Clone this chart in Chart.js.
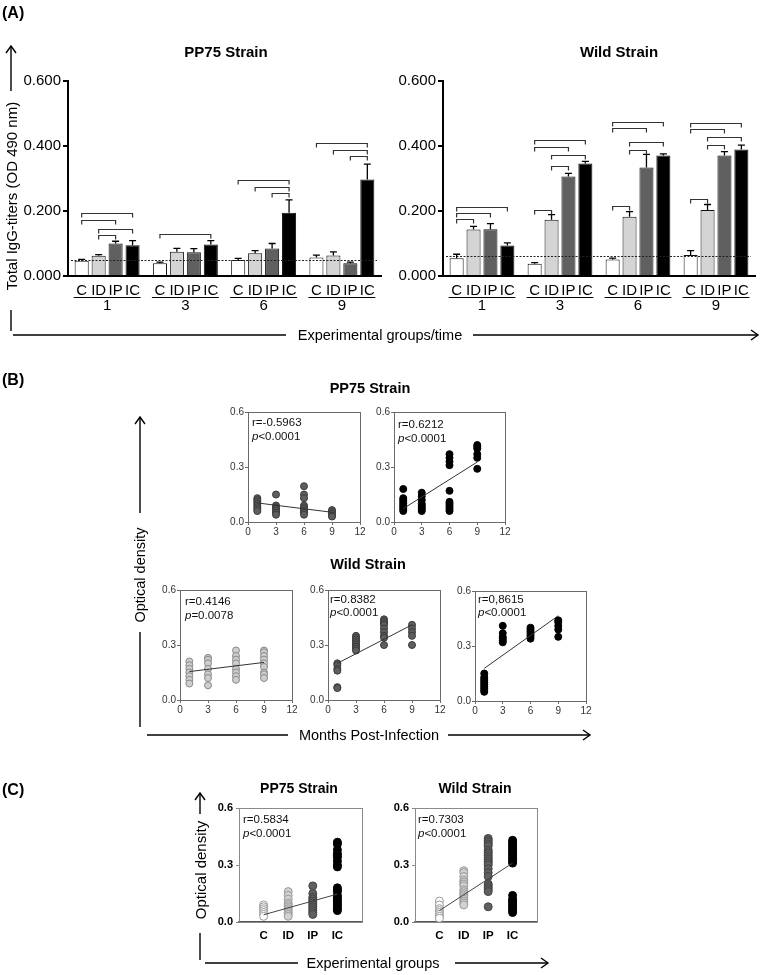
<!DOCTYPE html>
<html><head><meta charset="utf-8">
<script src="https://cdn.jsdelivr.net/npm/chart.js@4.4.1/dist/chart.umd.min.js"></script>
<style>
html,body{margin:0;padding:0;background:#fff;}
#fig{position:relative;width:764px;height:975px;overflow:hidden;font-family:"Liberation Sans",Arial,sans-serif;color:#000;background:#fff;}
canvas.c{position:absolute;left:0;top:0;width:764px;height:975px;}
.t{position:absolute;white-space:nowrap;line-height:1;}
.b{font-weight:bold;}
.ctr{transform:translate(-50%,-50%);}
.rot{transform:translate(-50%,-50%) rotate(-90deg);}
svg{position:absolute;left:0;top:0;}
</style></head>
<body>
<div id="fig"></div>
<script>
// ---------------- DATA ----------------
// Panel A
const groupLabels = ['1','3','6','9'];
const subLabels = ['C','ID','IP','IC'];
const pp75_C  = [0.047, 0.039, 0.049, 0.057];
const pp75_ID = [0.062, 0.075, 0.070, 0.063];
const pp75_IP = [0.100, 0.073, 0.085, 0.039];
const pp75_IC = [0.095, 0.097, 0.195, 0.297];
const pp75_C_sem  = [0.004, 0.004, 0.005, 0.007];
const pp75_ID_sem = [0.004, 0.010, 0.008, 0.011];
const pp75_IP_sem = [0.007, 0.011, 0.015, 0.004];
const pp75_IC_sem = [0.014, 0.012, 0.039, 0.047];
const wild_C  = [0.055, 0.038, 0.051, 0.065];
const wild_ID = [0.143, 0.173, 0.182, 0.203];
const wild_IP = [0.144, 0.306, 0.334, 0.371];
const wild_IC = [0.094, 0.346, 0.371, 0.389];
const wild_C_sem  = [0.012, 0.003, 0.004, 0.013];
const wild_ID_sem = [0.010, 0.016, 0.016, 0.017];
const wild_IP_sem = [0.017, 0.010, 0.040, 0.012];
const wild_IC_sem = [0.008, 0.007, 0.005, 0.014];
const pp75_cutoff = 0.049;
const wild_cutoff = 0.062;
// brackets: [group, fromBar, toBar, height]
const pp75_brackets = [[0,0,3,0.193],[0,0,2,0.172],[0,1,3,0.146],[0,1,2,0.125],[1,0,3,0.128],
  [2,0,3,0.295],[2,1,3,0.273],[2,2,3,0.254],[3,0,3,0.409],[3,1,3,0.388],[3,2,3,0.369]];
const wild_brackets = [[0,0,3,0.212],[0,0,2,0.194],[0,0,1,0.176],
  [1,0,3,0.418],[1,0,2,0.397],[1,1,3,0.373],[1,1,2,0.339],[1,0,1,0.204],
  [2,0,3,0.475],[2,0,2,0.455],[2,1,3,0.411],[2,1,2,0.389],[2,0,1,0.215],
  [3,0,3,0.470],[3,0,2,0.452],[3,1,3,0.429],[3,1,2,0.402],[3,0,1,0.238]];

// Panel B (months post-infection)
const months = [1,3,6,9];
const bPP75_IP = [[0.13,0.12,0.11,0.10,0.09,0.08,0.07,0.06],[0.15,0.09,0.08,0.07,0.06,0.05,0.04],[0.195,0.15,0.13,0.09,0.08,0.07,0.06,0.05,0.04],[0.065,0.055,0.045,0.035,0.03]];
const bPP75_IC = [[0.18,0.13,0.12,0.11,0.10,0.09,0.08,0.07,0.06],[0.16,0.14,0.12,0.10,0.09,0.08,0.07,0.06],[0.37,0.35,0.33,0.31,0.17,0.11,0.10,0.09,0.08,0.07,0.06],[0.42,0.41,0.40,0.37,0.35,0.29]];
const bWild_ID = [[0.21,0.19,0.17,0.15,0.13,0.11,0.09],[0.23,0.22,0.20,0.17,0.14,0.12,0.08],[0.27,0.24,0.22,0.20,0.17,0.15,0.13,0.11],[0.27,0.26,0.24,0.22,0.20,0.18,0.15,0.14,0.12]];
const bWild_IP = [[0.20,0.19,0.17,0.16,0.07,0.065],[0.35,0.34,0.33,0.32,0.31,0.30,0.29,0.28,0.27],[0.44,0.43,0.42,0.41,0.39,0.37,0.35,0.34,0.30],[0.41,0.39,0.37,0.35,0.30]];
const bWild_IC = [[0.15,0.13,0.12,0.11,0.10,0.09,0.08,0.07,0.06,0.05],[0.41,0.37,0.35,0.34,0.33,0.32],[0.40,0.39,0.38,0.37,0.36,0.35,0.34],[0.44,0.43,0.41,0.39,0.35]];
const fitPP75_IP = [0.104, 0.053];
const fitPP75_IC = [0.073, 0.327];
const fitWild_ID = [0.155, 0.205];
const fitWild_IP = [0.200, 0.410];
const fitWild_IC = [0.178, 0.465];
const statR = ['r=-0.5963','r=0.6212','r=0.4146','r=0.8382','r=0,8615','r=0.5834','r=0.7303'];
const statP = ['<0.0001','<0.0001','=0.0078','<0.0001','<0.0001','<0.0001','<0.0001'];

// Panel C (experimental groups)
const cGroups = ['C','ID','IP','IC'];
const cPP75_C  = [0.09,0.08,0.07,0.06,0.05,0.04,0.03];
const cPP75_ID = [0.16,0.14,0.12,0.10,0.09,0.08,0.07,0.06,0.05,0.04,0.03];
const cPP75_IP = [0.19,0.15,0.13,0.12,0.11,0.10,0.09,0.08,0.07,0.06,0.05,0.04];
const cPP75_IC = [0.42,0.41,0.38,0.36,0.35,0.34,0.32,0.30,0.29,0.18,0.17,0.16,0.14,0.13,0.12,0.11,0.10,0.09,0.08,0.07,0.06];
const cWild_C  = [0.11,0.09,0.07,0.06,0.05,0.04,0.03,0.02];
const cWild_ID = [0.27,0.26,0.24,0.22,0.21,0.20,0.19,0.17,0.16,0.15,0.14,0.13,0.12,0.11,0.10,0.09];
const cWild_IP = [0.44,0.43,0.42,0.41,0.40,0.38,0.37,0.36,0.35,0.34,0.33,0.32,0.31,0.30,0.28,0.26,0.24,0.20,0.19,0.18,0.17,0.16,0.08];
const cWild_IC = [0.43,0.42,0.41,0.40,0.39,0.38,0.37,0.36,0.35,0.34,0.33,0.32,0.31,0.14,0.12,0.11,0.10,0.09,0.08,0.07,0.06,0.05];
const fitC_PP75 = [0.038, 0.147];
const fitC_Wild = [0.060, 0.310];

// ---------------- RENDER ----------------
const FONT = '"Liberation Sans", Arial, sans-serif';
Chart.defaults.font.family = FONT;
Chart.defaults.color = '#000';
Chart.defaults.animation = false;
const W = 764, H = 975;
const fig = document.getElementById('fig');

function mkCanvas(){ const c=document.createElement('canvas'); c.width=W; c.height=H; c.className='c'; fig.appendChild(c); return c; }
function pad(a, yW, xH){ return {left:a.l-yW, right:W-a.r, top:a.t, bottom:H-a.b-xH}; }

const barDecor = {
  id:'barDecor',
  afterDatasetsDraw(chart, args, o){
    const ctx=chart.ctx, y=chart.scales.y, x=chart.scales.x, a=chart.chartArea;
    ctx.save();
    // cut-off line
    ctx.strokeStyle='#222'; ctx.lineWidth=1; ctx.setLineDash([2,1.5]);
    const cy=Math.round(y.getPixelForValue(o.cutoff))+0.5;
    ctx.beginPath(); ctx.moveTo(a.left+3,cy); ctx.lineTo(a.right-4,cy); ctx.stroke();
    ctx.setLineDash([]);
    // error bars
    ctx.strokeStyle='#000'; ctx.lineWidth=1.3;
    chart.data.datasets.forEach((ds,i)=>{
      chart.getDatasetMeta(i).data.forEach((bar,j)=>{
        const top=y.getPixelForValue(ds.data[j]+o.sems[i][j]);
        ctx.beginPath(); ctx.moveTo(bar.x,bar.y); ctx.lineTo(bar.x,top);
        ctx.moveTo(bar.x-3.5,top); ctx.lineTo(bar.x+3.5,top); ctx.stroke();
      });
    });
    // significance brackets
    ctx.strokeStyle='#333'; ctx.lineWidth=1.2;
    o.brackets.forEach(([g,p,q,v])=>{
      const x1=chart.getDatasetMeta(p).data[g].x, x2=chart.getDatasetMeta(q).data[g].x;
      const by=Math.round(y.getPixelForValue(v))+0.5;
      ctx.beginPath(); ctx.moveTo(x1,by+4); ctx.lineTo(x1,by); ctx.lineTo(x2,by); ctx.lineTo(x2,by+4); ctx.stroke();
    });
    // category labels
    ctx.fillStyle='#000'; ctx.font='15px '+FONT; ctx.textAlign='center'; ctx.textBaseline='middle';
    chart.data.labels.forEach((lab,g)=>{
      let x0=Infinity,x1=-Infinity;
      chart.data.datasets.forEach((ds,i)=>{
        const b=chart.getDatasetMeta(i).data[g];
        ctx.fillText(ds.label,b.x,a.bottom+14.5);
        x0=Math.min(x0,b.x-b.width/2); x1=Math.max(x1,b.x+b.width/2);
      });
      ctx.fillRect(x0-1,a.bottom+21,x1-x0+2,1);
      ctx.fillText(lab,x.getPixelForValue(g),a.bottom+30);
    });
    ctx.restore();
  }
};
const frame = {
  id:'frame',
  afterDraw(chart,args,o){
    if(!o||!o.color) return;
    const ctx=chart.ctx,a=chart.chartArea;
    ctx.save(); ctx.strokeStyle=o.color; ctx.lineWidth=1;
    ctx.strokeRect(Math.round(a.left)+0.5,Math.round(a.top)+0.5,Math.round(a.right-a.left),Math.round(a.bottom-a.top));
    ctx.restore();
  }
};
const statText = {
  id:'statText',
  afterDraw(chart,args,o){
    if(!o||!o.r) return;
    const ctx=chart.ctx,a=chart.chartArea;
    ctx.save(); ctx.fillStyle='#111'; ctx.textBaseline='middle'; ctx.textAlign='left';
    ctx.font=o.size+'px '+FONT; ctx.fillText(o.r,a.left+o.dx,a.top+o.dy1);
    ctx.font='italic '+o.size+'px '+FONT; ctx.fillText('p',a.left+o.dx,a.top+o.dy2);
    const w=ctx.measureText('p').width;
    ctx.font=o.size+'px '+FONT; ctx.fillText(o.p,a.left+o.dx+w,a.top+o.dy2);
    ctx.restore();
  }
};

const barFill = ['#ffffff','#d4d4d4','#606060','#000000'];
function barChart(area, series, sems, cutoff, brackets){
  const YW=60, XH=40;
  new Chart(mkCanvas(), {
    type:'bar',
    data:{labels:groupLabels, datasets:series.map((d,i)=>({label:subLabels[i], data:d, backgroundColor:barFill[i], borderColor:'#111', borderWidth:1, borderSkipped:'start', categoryPercentage:0.867, barPercentage:0.83}))},
    options:{responsive:false, animation:false, layout:{padding:pad(area,YW,XH)},
      plugins:{legend:{display:false}, tooltip:{enabled:false}, barDecor:{sems, cutoff, brackets}},
      scales:{
        x:{offset:true, grid:{display:false, drawTicks:false}, ticks:{display:false}, border:{color:'#000', width:2}, afterFit:s=>{s.height=XH;}},
        y:{min:0, max:0.6, ticks:{stepSize:0.2, callback:v=>Number(v).toFixed(3), font:{size:15}, color:'#000', padding:2},
           grid:{drawOnChartArea:false, tickLength:5, color:'#000', lineWidth:2}, border:{color:'#000', width:2}, afterFit:s=>{s.width=YW;}}
      }},
    plugins:[barDecor]
  });
}

const sDark = {bg:'#5e5e5e', bd:'#3a3a3a'}, sBlack = {bg:'#000', bd:'#000'}, sLight = {bg:'#cdcdcd', bd:'#8a8a8a'};
function bScatter(area, vals, st, fit, stat){
  const YW=30, XH=20;
  const pts = months.flatMap((m,k)=>vals[k].map(v=>({x:m,y:v})));
  new Chart(mkCanvas(), {
    type:'scatter',
    data:{datasets:[
      {type:'line', data:[{x:months[0],y:fit[0]},{x:months[months.length-1],y:fit[1]}], borderColor:'#333', borderWidth:1, pointRadius:0, order:0},
      {data:pts, backgroundColor:st.bg, borderColor:st.bd, borderWidth:1, pointRadius:3.5, order:1}
    ]},
    options:{responsive:false, animation:false, layout:{padding:pad(area,YW,XH)},
      plugins:{legend:{display:false}, tooltip:{enabled:false}, frame:{color:'#6a6a6a'}, statText:stat},
      scales:{
        x:{type:'linear', min:0, max:12, ticks:{stepSize:3, font:{size:10}, color:'#333', padding:1},
           grid:{drawOnChartArea:false, tickLength:3, color:'#6a6a6a'}, border:{color:'#6a6a6a', width:1}, afterFit:s=>{s.height=XH;}},
        y:{min:0, max:0.6, ticks:{stepSize:0.3, callback:v=>Number(v).toFixed(1), font:{size:10}, color:'#333', padding:1},
           grid:{drawOnChartArea:false, tickLength:3, color:'#6a6a6a'}, border:{color:'#6a6a6a', width:1}, afterFit:s=>{s.width=YW;}}
      }},
    plugins:[frame, statText]
  });
}

const cStyles = [{bg:'#ffffff', bd:'#9a9a9a'},{bg:'#d2d2d2', bd:'#9a9a9a'},{bg:'#606060', bd:'#444'},{bg:'#000', bd:'#000'}];
function cScatter(area, groups, fit, stat){
  const YW=30, XH=24;
  const ds = groups.map((vals,k)=>({data:vals.map(v=>({x:k+1,y:v})), backgroundColor:cStyles[k].bg, borderColor:cStyles[k].bd, borderWidth:1, pointRadius:4, order:1}));
  ds.unshift({type:'line', data:[{x:1,y:fit[0]},{x:groups.length,y:fit[1]}], borderColor:'#444', borderWidth:1, pointRadius:0, order:0});
  new Chart(mkCanvas(), {
    type:'scatter',
    data:{datasets:ds},
    options:{responsive:false, animation:false, layout:{padding:pad(area,YW,XH)},
      plugins:{legend:{display:false}, tooltip:{enabled:false}, frame:{color:'#8a8a8a'}, statText:stat},
      scales:{
        x:{type:'linear', min:0, max:groups.length+1,
           afterBuildTicks:s=>{s.ticks=cGroups.map((g,i)=>({value:i+1}));},
           ticks:{callback:v=>cGroups[v-1], font:{size:11.5, weight:'bold'}, color:'#000', padding:7},
           grid:{display:false, drawTicks:false}, border:{color:'#555', width:1.5}, afterFit:s=>{s.height=XH;}},
        y:{min:0, max:0.6, ticks:{stepSize:0.3, callback:v=>Number(v).toFixed(1), font:{size:11, weight:'bold'}, color:'#000', padding:3},
           grid:{drawOnChartArea:false, tickLength:3, color:'#888'}, border:{color:'#888', width:1}, afterFit:s=>{s.width=YW;}}
      }},
    plugins:[frame, statText]
  });
}

// Panel A
barChart({l:68,r:381,t:81,b:276}, [pp75_C,pp75_ID,pp75_IP,pp75_IC], [pp75_C_sem,pp75_ID_sem,pp75_IP_sem,pp75_IC_sem], pp75_cutoff, pp75_brackets);
barChart({l:443,r:755,t:81,b:276}, [wild_C,wild_ID,wild_IP,wild_IC], [wild_C_sem,wild_ID_sem,wild_IP_sem,wild_IC_sem], wild_cutoff, wild_brackets);
// Panel B
bScatter({l:248,r:360,t:412,b:522}, bPP75_IP, sDark, fitPP75_IP, {r:statR[0],p:statP[0],size:11.5,dx:4,dy1:11,dy2:24.5});
bScatter({l:394,r:505,t:412,b:522}, bPP75_IC, sBlack, fitPP75_IC, {r:statR[1],p:statP[1],size:11.5,dx:4,dy1:13,dy2:27});
bScatter({l:180,r:292,t:590,b:700}, bWild_ID, sLight, fitWild_ID, {r:statR[2],p:statP[2],size:11.5,dx:5,dy1:12,dy2:26});
bScatter({l:328,r:440,t:590,b:700}, bWild_IP, sDark, fitWild_IP, {r:statR[3],p:statP[3],size:11.5,dx:2,dy1:10,dy2:23});
bScatter({l:475,r:586,t:591,b:701}, bWild_IC, sBlack, fitWild_IC, {r:statR[4],p:statP[4],size:11.5,dx:3,dy1:9,dy2:22});
// Panel C
cScatter({l:239,r:362,t:808,b:922}, [cPP75_C,cPP75_ID,cPP75_IP,cPP75_IC], fitC_PP75, {r:statR[5],p:statP[5],size:11.5,dx:4,dy1:12,dy2:25.5});
cScatter({l:415,r:537,t:808,b:922}, [cWild_C,cWild_ID,cWild_IP,cWild_IC], fitC_Wild, {r:statR[6],p:statP[6],size:11.5,dx:3,dy1:12,dy2:25.5});

// overlay text and arrows
fig.insertAdjacentHTML('beforeend', `
<svg width="764" height="975"><g stroke="#000" stroke-width="1.4" fill="none">
 <line x1="11" y1="91" x2="11" y2="46"/><polyline points="6,53 11,46 16,53"/>
 <line x1="11" y1="310" x2="11" y2="331"/>
 <line x1="13" y1="335" x2="286" y2="335"/><line x1="473" y1="335" x2="758" y2="335"/><polyline points="751,330 758,335 751,340"/>
 <line x1="140" y1="513" x2="140" y2="417"/><polyline points="135,424 140,417 145,424"/>
 <line x1="140" y1="632" x2="140" y2="727"/>
 <line x1="147" y1="735" x2="288" y2="735"/><line x1="448" y1="735" x2="590" y2="735"/><polyline points="583,730 590,735 583,740"/>
 <line x1="200" y1="814" x2="200" y2="793"/><polyline points="195,800 200,793 205,800"/>
 <line x1="200" y1="933" x2="200" y2="960"/>
 <line x1="205" y1="963" x2="298" y2="963"/><line x1="455" y1="963" x2="548" y2="963"/><polyline points="541,958 548,963 541,968"/>
</g></svg>
<div class="t b" style="left:2px;top:5px;font-size:16px">(A)</div>
<div class="t b ctr" style="left:226px;top:51px;font-size:15px">PP75 Strain</div>
<div class="t b ctr" style="left:619px;top:51px;font-size:15px">Wild Strain</div>
<div class="t rot" style="left:11px;top:196px;font-size:15px">Total IgG-titers (OD 490 nm)</div>
<div class="t ctr" style="left:380px;top:335px;font-size:14.5px">Experimental groups/time</div>
<div class="t b" style="left:2px;top:372px;font-size:16px">(B)</div>
<div class="t b ctr" style="left:370px;top:388px;font-size:14.5px">PP75 Strain</div>
<div class="t b ctr" style="left:368px;top:564px;font-size:14.5px">Wild Strain</div>
<div class="t rot" style="left:140px;top:575px;font-size:14.5px">Optical density</div>
<div class="t ctr" style="left:369px;top:735px;font-size:14.5px">Months Post-Infection</div>
<div class="t b" style="left:2px;top:782px;font-size:16px">(C)</div>
<div class="t b ctr" style="left:299px;top:788px;font-size:14px">PP75 Strain</div>
<div class="t b ctr" style="left:475px;top:788px;font-size:14px">Wild Strain</div>
<div class="t rot" style="left:200px;top:870px;font-size:15px">Optical density</div>
<div class="t ctr" style="left:373px;top:963px;font-size:14.5px">Experimental groups</div>
`);
</script>
</body></html>
